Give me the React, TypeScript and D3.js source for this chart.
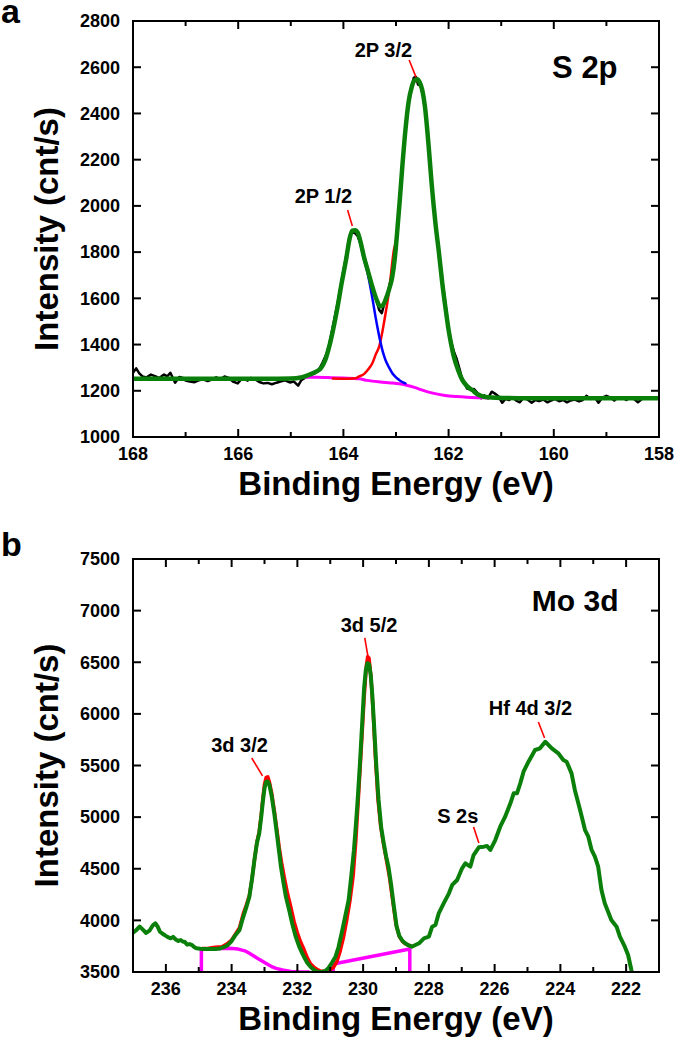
import React from "react";
import * as d3 from "d3";

type Pt = [number, number];

// ---------- Panel a : S 2p ----------
const aXTicks = [168, 167, 166, 165, 164, 163, 162, 161, 160, 159, 158];
const aYTicks = [1000, 1200, 1400, 1600, 1800, 2000, 2200, 2400, 2600, 2800];

const aBlack: Pt[] = [
  [168.0, 1278], [167.94, 1297], [167.88, 1275], [167.82, 1262], [167.74, 1258], [167.66, 1270],
  [167.57, 1262], [167.5, 1255], [167.41, 1270], [167.35, 1262], [167.29, 1278], [167.2, 1235],
  [167.12, 1260], [167.05, 1255], [167.0, 1244], [166.92, 1240], [166.83, 1237], [166.75, 1245],
  [166.67, 1250], [166.58, 1242], [166.5, 1248], [166.42, 1258], [166.34, 1250], [166.26, 1262],
  [166.18, 1256], [166.1, 1240], [166.01, 1232], [165.95, 1248], [165.89, 1252], [165.82, 1244],
  [165.76, 1255], [165.68, 1250], [165.6, 1238], [165.52, 1232], [165.44, 1234], [165.36, 1228],
  [165.27, 1235], [165.2, 1240], [165.11, 1245], [165.02, 1236], [164.94, 1240], [164.86, 1222],
  [164.8, 1246], [164.72, 1258], [164.65, 1268], [164.55, 1275], [164.47, 1290], [164.4, 1320],
  [164.32, 1360], [164.27, 1400], [164.2, 1478], [164.11, 1580], [164.03, 1680], [163.95, 1780],
  [163.88, 1870], [163.84, 1885], [163.79, 1884], [163.73, 1870], [163.67, 1835], [163.61, 1785],
  [163.53, 1720], [163.45, 1650], [163.37, 1590], [163.32, 1550], [163.27, 1536], [163.22, 1580],
  [163.16, 1620], [163.1, 1680], [163.04, 1760], [162.98, 1885], [162.93, 2030], [162.88, 2180],
  [162.82, 2330], [162.76, 2460], [162.7, 2520], [162.66, 2555], [162.62, 2558], [162.58, 2525],
  [162.53, 2520], [162.48, 2470], [162.42, 2370], [162.36, 2210], [162.3, 2050], [162.24, 1900],
  [162.18, 1780], [162.12, 1680], [162.06, 1575], [162.0, 1470], [161.95, 1410], [161.9, 1370],
  [161.85, 1340], [161.8, 1300], [161.75, 1258], [161.7, 1235], [161.65, 1210], [161.58, 1205],
  [161.52, 1208], [161.45, 1190], [161.38, 1168], [161.32, 1180], [161.25, 1168], [161.18, 1196],
  [161.12, 1188], [161.05, 1175], [160.98, 1148], [160.92, 1165], [160.85, 1160], [160.78, 1172],
  [160.72, 1158], [160.65, 1150], [160.58, 1168], [160.5, 1162], [160.42, 1148], [160.35, 1160],
  [160.28, 1155], [160.2, 1162], [160.12, 1150], [160.05, 1158], [159.98, 1165], [159.9, 1155],
  [159.82, 1160], [159.75, 1150], [159.68, 1158], [159.6, 1162], [159.52, 1154], [159.45, 1160],
  [159.38, 1178], [159.3, 1165], [159.22, 1172], [159.15, 1148], [159.08, 1170], [159.0, 1178],
  [158.92, 1170], [158.85, 1158], [158.78, 1172], [158.7, 1170], [158.62, 1160], [158.55, 1172],
  [158.48, 1165], [158.4, 1150], [158.32, 1165], [158.25, 1170],
];

const aGreen: Pt[] = [
  [168.0, 1252], [167.0, 1252], [166.0, 1252], [165.0, 1253], [164.8, 1258], [164.62, 1272],
  [164.5, 1285], [164.43, 1297], [164.35, 1330], [164.27, 1391], [164.2, 1460], [164.11, 1564],
  [164.03, 1670], [163.95, 1766], [163.88, 1860], [163.83, 1893], [163.78, 1895], [163.73, 1885],
  [163.67, 1840], [163.61, 1780], [163.53, 1715], [163.45, 1650], [163.37, 1595], [163.3, 1565],
  [163.25, 1570], [163.2, 1593], [163.13, 1640], [163.07, 1694], [163.02, 1780], [162.98, 1881],
  [162.93, 2020], [162.88, 2170], [162.82, 2330], [162.76, 2450], [162.7, 2515], [162.65, 2543],
  [162.6, 2548], [162.55, 2535], [162.5, 2500], [162.45, 2430], [162.38, 2260], [162.32, 2090],
  [162.25, 1925], [162.18, 1790], [162.12, 1665], [162.06, 1560], [162.0, 1463], [161.95, 1400],
  [161.9, 1347], [161.82, 1290], [161.74, 1247], [161.65, 1220], [161.55, 1203], [161.45, 1185],
  [161.37, 1177], [161.25, 1172], [161.1, 1170], [160.5, 1168], [159.5, 1168], [158.0, 1168],
];

const aRed: Pt[] = [
  [164.2, 1253], [163.9, 1252], [163.77, 1254], [163.7, 1262], [163.61, 1272], [163.53, 1292],
  [163.45, 1319], [163.38, 1360], [163.32, 1391], [163.23, 1492], [163.13, 1636], [163.04, 1809],
  [162.98, 1870], [162.93, 2010], [162.88, 2160], [162.82, 2320], [162.76, 2440], [162.7, 2508],
  [162.65, 2538], [162.6, 2543], [162.55, 2530], [162.5, 2495], [162.45, 2425], [162.38, 2255],
  [162.32, 2085], [162.25, 1920], [162.18, 1786], [162.12, 1662], [162.06, 1557], [162.0, 1460],
  [161.95, 1398], [161.9, 1345], [161.82, 1288], [161.74, 1246], [161.65, 1219], [161.55, 1202],
  [161.45, 1184], [161.37, 1176], [161.25, 1171], [161.1, 1170],
];

const aBlue: Pt[] = [
  [164.8, 1258], [164.62, 1272], [164.5, 1285], [164.43, 1297], [164.35, 1330], [164.27, 1391],
  [164.2, 1460], [164.11, 1564], [164.03, 1670], [163.95, 1766], [163.88, 1860], [163.83, 1893],
  [163.78, 1893], [163.73, 1880], [163.67, 1830], [163.61, 1770], [163.54, 1710], [163.48, 1640],
  [163.43, 1575], [163.39, 1521], [163.34, 1460], [163.29, 1405], [163.25, 1368], [163.2, 1333],
  [163.13, 1300], [163.07, 1276], [163.0, 1258], [162.94, 1247], [162.88, 1238], [162.82, 1232],
];

const aMagenta: Pt[] = [
  [164.85, 1258], [164.5, 1258], [164.29, 1257], [164.0, 1255], [163.7, 1252], [163.55, 1245],
  [163.3, 1238], [163.1, 1234], [162.94, 1230], [162.8, 1224], [162.65, 1215], [162.5, 1203],
  [162.3, 1190], [162.07, 1180], [161.85, 1175], [161.65, 1172], [161.4, 1170], [161.24, 1169],
];

// ---------- Panel b : Mo 3d ----------
const bXTicks = [237, 236, 235, 234, 233, 232, 231, 230, 229, 228, 227, 226, 225, 224, 223, 222, 221];
const bYTicks = [3500, 4000, 4500, 5000, 5500, 6000, 6500, 7000, 7500];

const bGreen: Pt[] = [
  [237.0, 3880], [236.9, 3905], [236.8, 3940], [236.7, 3910], [236.6, 3878], [236.5, 3900],
  [236.4, 3950], [236.32, 3972], [236.25, 3940], [236.18, 3890], [236.1, 3870], [236.0, 3850],
  [235.92, 3835], [235.85, 3826], [235.78, 3840], [235.7, 3815], [235.62, 3800], [235.55, 3810],
  [235.49, 3795], [235.42, 3790], [235.35, 3765], [235.28, 3770], [235.2, 3760], [235.13, 3740],
  [235.07, 3729], [234.95, 3725], [234.8, 3722], [234.65, 3722], [234.5, 3723], [234.35, 3728],
  [234.2, 3745], [234.12, 3761], [234.0, 3800], [233.9, 3850], [233.76, 3907], [233.65, 4030],
  [233.55, 4130], [233.46, 4229], [233.38, 4400], [233.3, 4600], [233.23, 4750], [233.16, 4843],
  [233.1, 5000], [233.05, 5150], [233.0, 5280], [232.95, 5340], [232.9, 5345], [232.85, 5310],
  [232.78, 5200], [232.7, 5030], [232.62, 4830], [232.55, 4650], [232.5, 4520], [232.42, 4360],
  [232.35, 4230], [232.25, 4100], [232.15, 3960], [232.05, 3842], [231.95, 3750], [231.85, 3680],
  [231.8, 3648], [231.7, 3590], [231.6, 3550], [231.55, 3535], [231.45, 3512], [231.35, 3500],
  [231.25, 3500], [231.15, 3510], [231.05, 3540], [230.95, 3590], [230.84, 3648], [230.75, 3740],
  [230.65, 3880], [230.55, 4030], [230.44, 4197], [230.35, 4460], [230.28, 4680], [230.24, 4843],
  [230.18, 5100], [230.1, 5500], [230.03, 5900], [229.97, 6250], [229.92, 6420], [229.87, 6490],
  [229.82, 6480], [229.77, 6380], [229.72, 6180], [229.66, 5850], [229.6, 5500], [229.53, 5166],
  [229.45, 4900], [229.38, 4760], [229.3, 4620], [229.23, 4520], [229.15, 4350], [229.07, 4150],
  [228.98, 3939], [228.9, 3850], [228.8, 3800], [228.72, 3778], [228.6, 3755], [228.52, 3745],
  [228.3, 3778], [228.15, 3826], [228.0, 3842], [227.9, 3939], [227.8, 3955], [227.7, 4068],
  [227.55, 4165], [227.39, 4262], [227.29, 4343], [227.14, 4391], [226.99, 4504], [226.89, 4553],
  [226.74, 4520], [226.64, 4633], [226.48, 4708], [226.33, 4714], [226.23, 4720], [226.13, 4682],
  [225.98, 4778], [225.83, 4907], [225.68, 5004], [225.52, 5134], [225.42, 5231], [225.32, 5231],
  [225.22, 5327], [225.12, 5440], [224.97, 5537], [224.77, 5650], [224.62, 5666], [224.46, 5730],
  [224.26, 5666], [224.06, 5618], [223.91, 5553], [223.81, 5537], [223.66, 5424], [223.56, 5263],
  [223.4, 5069], [223.25, 4875], [223.15, 4810], [223.05, 4682], [222.95, 4617], [222.85, 4520],
  [222.75, 4294], [222.65, 4165], [222.45, 4004], [222.29, 3939], [222.19, 3842], [222.04, 3745],
  [221.94, 3665], [221.84, 3519], [221.8, 3470],
];

const bRed: Pt[] = [
  [234.9, 3728], [234.7, 3730], [234.5, 3740], [234.3, 3745], [234.15, 3770], [234.0, 3810],
  [233.9, 3860], [233.76, 3930], [233.65, 4060], [233.55, 4150], [233.46, 4240], [233.38, 4400],
  [233.3, 4600], [233.23, 4760], [233.16, 4860], [233.1, 5020], [233.05, 5180], [233.0, 5320],
  [232.95, 5385], [232.9, 5390], [232.85, 5340], [232.78, 5230], [232.7, 5060], [232.62, 4870],
  [232.55, 4700], [232.48, 4560], [232.4, 4420], [232.3, 4260], [232.2, 4130], [232.1, 3990],
  [232.0, 3880], [231.9, 3790], [231.8, 3720], [231.7, 3640], [231.6, 3580], [231.5, 3548],
  [231.4, 3525], [231.3, 3510], [231.15, 3505], [231.0, 3520], [230.9, 3545], [230.8, 3600],
  [230.7, 3700], [230.6, 3830], [230.5, 4000], [230.4, 4190], [230.3, 4440], [230.22, 4780],
  [230.15, 5150], [230.05, 5700], [229.97, 6150], [229.9, 6470], [229.86, 6555], [229.82, 6540],
  [229.76, 6350], [229.7, 6050], [229.63, 5600], [229.55, 5180], [229.47, 4920], [229.38, 4740],
  [229.3, 4600], [229.2, 4420], [229.1, 4190], [229.0, 3960], [228.9, 3845], [228.8, 3795],
  [228.7, 3770], [228.55, 3752],
];

const bMagentaLeft: Pt[] = [
  [234.92, 3500], [234.92, 3723], [234.5, 3727], [234.07, 3729], [233.8, 3722], [233.6, 3705],
  [233.46, 3681], [233.3, 3650], [233.15, 3620], [232.96, 3584], [232.8, 3555], [232.65, 3535],
  [232.45, 3519], [232.2, 3506], [231.95, 3502], [231.65, 3500],
];

const bMagentaRight: Pt[] = [
  [230.91, 3500], [230.91, 3577], [228.58, 3723], [228.58, 3500],
];

// ---------- annotations (data coordinates) ----------
type Ann = { text: string; x: number; y: number; size: number; tick?: [Pt, Pt] };

const aNotes: Ann[] = [
  { text: "2P 3/2", x: 163.24, y: 2644, size: 20, tick: [[162.75, 2631], [162.62, 2557]] },
  { text: "2P 1/2", x: 164.38, y: 2012, size: 20, tick: [[163.92, 1982], [163.83, 1913]] },
  { text: "S 2p", x: 159.41, y: 2553, size: 31 },
];

const bNotes: Ann[] = [
  { text: "Mo 3d", x: 223.55, y: 6996, size: 30 },
  { text: "3d 5/2", x: 229.82, y: 6793, size: 20, tick: [[229.95, 6735], [229.86, 6570]] },
  { text: "3d 3/2", x: 233.76, y: 5631, size: 20, tick: [[233.39, 5573], [233.06, 5400]] },
  { text: "Hf 4d 3/2", x: 224.91, y: 5989, size: 20, tick: [[224.67, 5921], [224.48, 5766]] },
  { text: "S 2s", x: 227.12, y: 4943, size: 20, tick: [[226.64, 4904], [226.48, 4749]] },
];

const FONT = "'Liberation Sans', Arial, Helvetica, sans-serif";
const GREEN = "#0a800a";
const RED = "#ff0000";
const BLUE = "#0000ff";
const MAGENTA = "#ff00ff";
const BLACK = "#000000";

type SeriesDef = { data: Pt[]; color: string; width: number; smooth?: boolean };

type PanelProps = {
  id: string;
  box: { left: number; right: number; top: number; bottom: number };
  xTicks: number[];
  yTicks: number[];
  series: SeriesDef[];
  notes: Ann[];
  letter: string;
  letterY: number;
};

function Panel({ id, box, xTicks, yTicks, series, notes, letter, letterY }: PanelProps) {
  const xDom = [d3.max(xTicks) as number, d3.min(xTicks) as number];
  const yDom = [d3.min(yTicks) as number, d3.max(yTicks) as number];
  const x = d3.scaleLinear().domain(xDom).range([box.left, box.right]);
  const y = d3.scaleLinear().domain(yDom).range([box.bottom, box.top]);
  const cx = (box.left + box.right) / 2;
  const cy = (box.top + box.bottom) / 2;

  const mkLine = (smooth?: boolean) =>
    d3
      .line<Pt>()
      .x((d) => x(d[0]))
      .y((d) => y(d[1]))
      .curve(smooth ? d3.curveMonotoneX : d3.curveLinear);

  return (
    <g>
      <defs>
        <clipPath id={id}>
          <rect x={box.left} y={box.top} width={box.right - box.left} height={box.bottom - box.top} />
        </clipPath>
      </defs>
      <g clipPath={`url(#${id})`}>
        {series.map((s, i) => (
          <path
            key={i}
            d={mkLine(s.smooth)(s.data) || ""}
            fill="none"
            stroke={s.color}
            strokeWidth={s.width}
            strokeLinejoin="round"
            strokeLinecap="round"
          />
        ))}
      </g>
      {xTicks.map((t) => {
        const major = t % 2 === 0;
        const len = major ? 8 : 5;
        return (
          <g key={`xt${t}`} stroke="#000" strokeWidth={2}>
            <line x1={x(t)} x2={x(t)} y1={box.bottom} y2={box.bottom - len} />
            <line x1={x(t)} x2={x(t)} y1={box.top} y2={box.top + len} />
          </g>
        );
      })}
      {yTicks.map((t) => (
        <g key={`yt${t}`} stroke="#000" strokeWidth={2}>
          <line x1={box.left} x2={box.left + 8} y1={y(t)} y2={y(t)} />
          <line x1={box.right} x2={box.right - 8} y1={y(t)} y2={y(t)} />
        </g>
      ))}
      <rect
        x={box.left}
        y={box.top}
        width={box.right - box.left}
        height={box.bottom - box.top}
        fill="none"
        stroke="#000"
        strokeWidth={2}
      />
      {xTicks
        .filter((t) => t % 2 === 0)
        .map((t) => (
          <text key={`xl${t}`} x={x(t)} y={box.bottom + 23} textAnchor="middle" fontSize={18} fontWeight="bold" fontFamily={FONT}>
            {t}
          </text>
        ))}
      {yTicks.map((t) => (
        <text key={`yl${t}`} x={box.left - 13} y={y(t)} dy="0.35em" textAnchor="end" fontSize={18} fontWeight="bold" fontFamily={FONT}>
          {t}
        </text>
      ))}
      <text x={cx} y={box.bottom + 58} textAnchor="middle" fontSize={33} fontWeight="bold" fontFamily={FONT}>
        Binding Energy (eV)
      </text>
      <text
        transform={`translate(58,${cy}) rotate(-90)`}
        textAnchor="middle"
        fontSize={33}
        fontWeight="bold"
        fontFamily={FONT}
      >
        Intensity (cnt/s)
      </text>
      <text x={1} y={letterY} fontSize={34} fontWeight="bold" fontFamily={FONT}>
        {letter}
      </text>
      {notes.map((n, i) => (
        <g key={`n${i}`}>
          <text x={x(n.x)} y={y(n.y)} textAnchor="middle" fontSize={n.size} fontWeight="bold" fontFamily={FONT}>
            {n.text}
          </text>
          {n.tick && (
            <line
              x1={x(n.tick[0][0])}
              y1={y(n.tick[0][1])}
              x2={x(n.tick[1][0])}
              y2={y(n.tick[1][1])}
              stroke={RED}
              strokeWidth={1.6}
            />
          )}
        </g>
      ))}
    </g>
  );
}

export default function App() {
  return (
    <div style={{ position: "absolute", left: 0, top: 0 }}>
      <svg width={675} height={1054} viewBox="0 0 675 1054" style={{ display: "block", background: "#fff" }}>
        <rect x={0} y={0} width={675} height={1054} fill="#fff" />
        <Panel
          id="clipA"
          box={{ left: 133, right: 659, top: 21, bottom: 437 }}
          xTicks={aXTicks}
          yTicks={aYTicks}
          series={[
            { data: aBlack, color: BLACK, width: 2.5 },
            { data: aMagenta, color: MAGENTA, width: 3, smooth: true },
            { data: aRed, color: RED, width: 2.5, smooth: true },
            { data: aBlue, color: BLUE, width: 2.5, smooth: true },
            { data: aGreen, color: GREEN, width: 4.5, smooth: true },
          ]}
          notes={aNotes}
          letter="a"
          letterY={23}
        />
        <Panel
          id="clipB"
          box={{ left: 133, right: 659, top: 559, bottom: 972 }}
          xTicks={bXTicks}
          yTicks={bYTicks}
          series={[
            { data: bMagentaLeft, color: MAGENTA, width: 3.5 },
            { data: bMagentaRight, color: MAGENTA, width: 3.5 },
            { data: bRed, color: RED, width: 3.5 },
            { data: bGreen, color: GREEN, width: 4 },
          ]}
          notes={bNotes}
          letter="b"
          letterY={556}
        />
      </svg>
    </div>
  );
}
